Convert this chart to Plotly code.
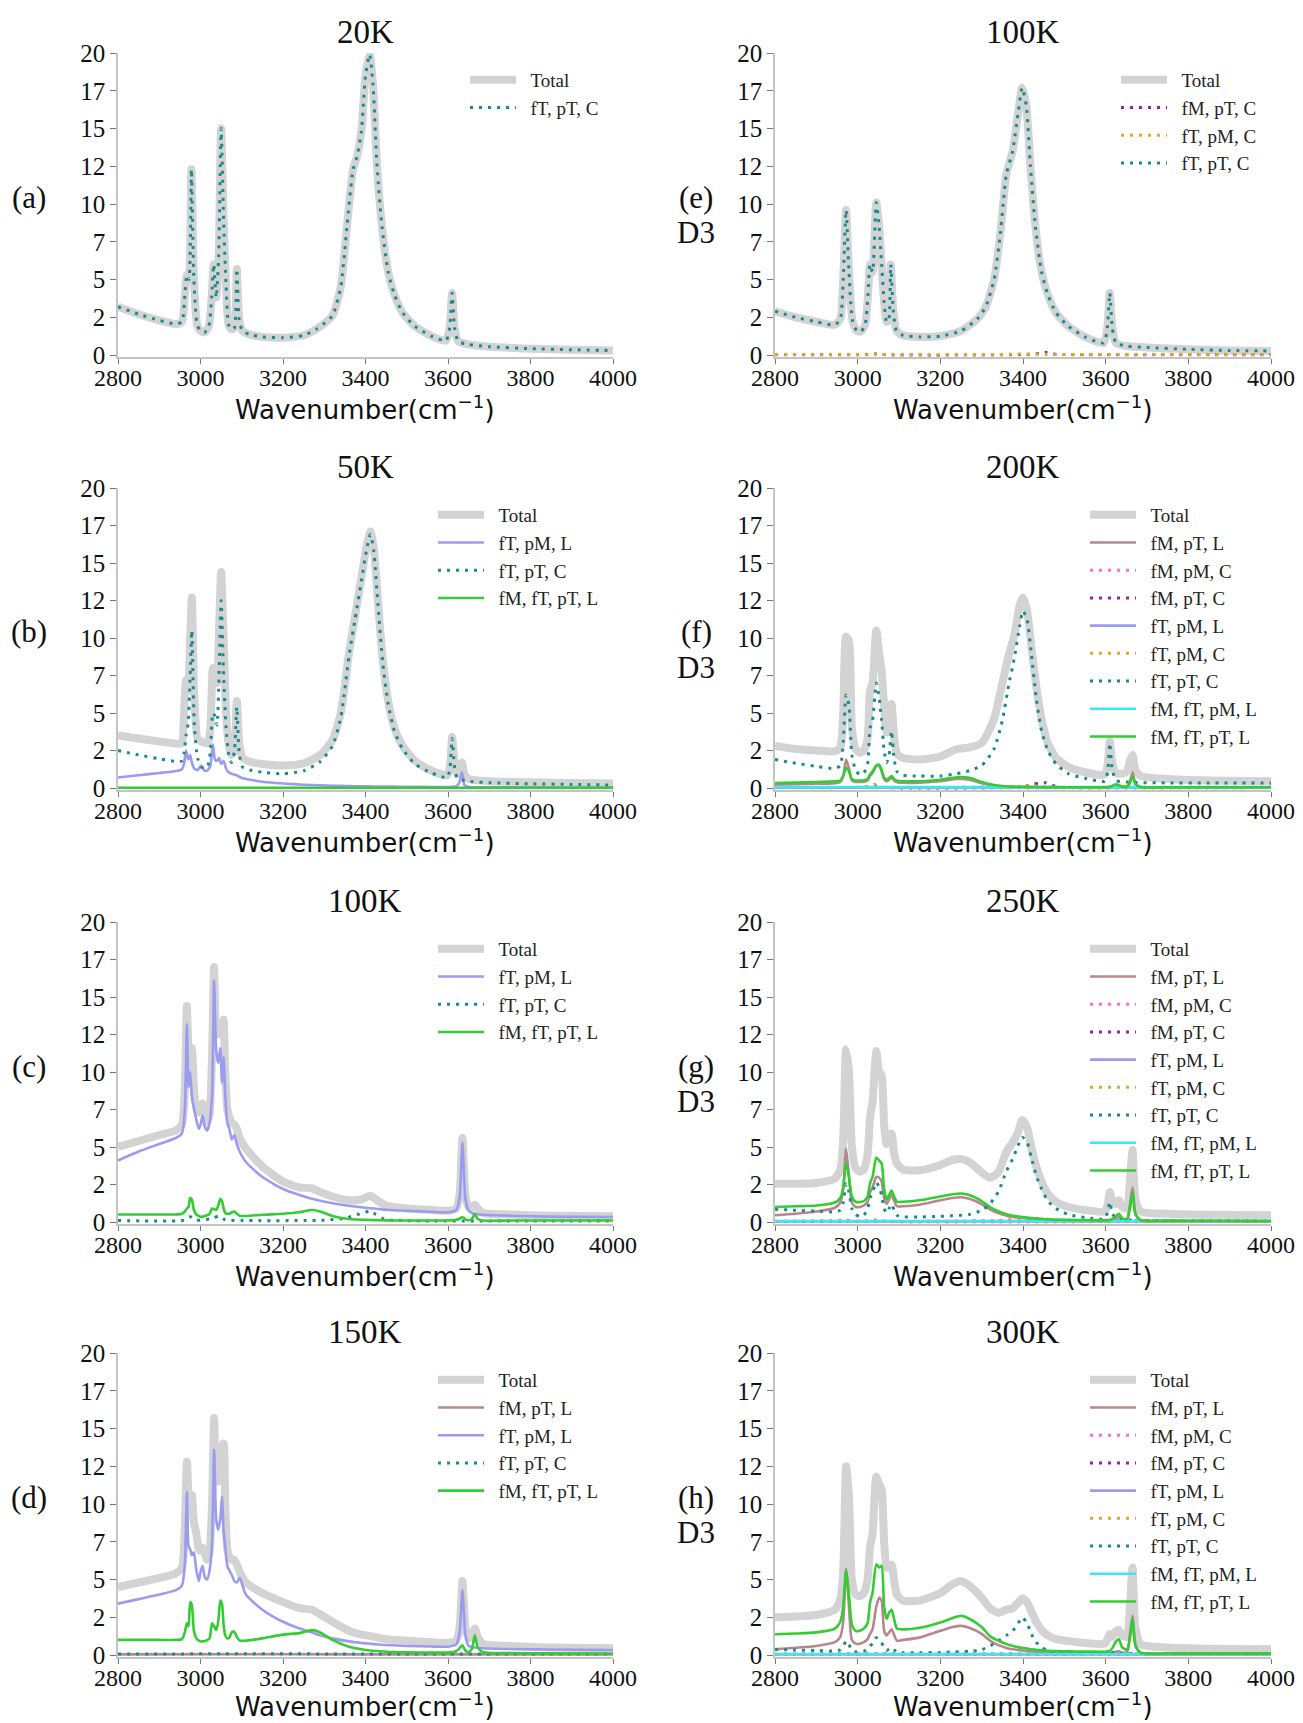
import plotly.graph_objects as go

# ======================= DATA =======================
# wavenumber grids (cm^-1)
wn_a = [2800, 2850, 2900, 2940, 2955, 2962, 2967, 2972, 2978, 2984,
        2992, 3000, 3010, 3020, 3027, 3032, 3038, 3044, 3050, 3056,
        3062, 3068, 3075, 3082, 3088, 3094, 3102, 3120, 3150, 3200,
        3250, 3280, 3300, 3320, 3340, 3355, 3370, 3380, 3390, 3400,
        3410, 3418, 3428, 3440, 3455, 3470, 3490, 3520, 3560, 3595,
        3604, 3610, 3616, 3625, 3650, 3700, 3800, 3900, 4000]
a_total = [3.2, 2.7, 2.3, 2.05, 2.2, 4.0, 5.3, 5.0, 12.3, 5.0,
           2.0, 1.6, 1.5, 1.9, 3.8, 6.0, 3.8, 6.5, 15.0, 9.0,
           4.6, 2.0, 1.7, 1.8, 5.7, 2.3, 1.6, 1.35, 1.2, 1.15,
           1.3, 1.7, 2.1, 2.6, 4.5, 8.5, 12.3, 13.2, 14.8, 18.5,
           19.9, 18.0, 12.5, 8.5, 5.5, 4.0, 2.8, 1.9, 1.25, 0.95,
           1.8, 4.1, 1.8, 0.9, 0.7, 0.55, 0.42, 0.35, 0.3]
a_fT_pT_C = [3.2, 2.7, 2.3, 2.05, 2.2, 4.0, 5.3, 5.0, 12.3, 5.0,
             2.0, 1.6, 1.5, 1.9, 3.8, 6.0, 3.8, 6.5, 15.0, 9.0,
             4.6, 2.0, 1.7, 1.8, 5.7, 2.3, 1.6, 1.35, 1.2, 1.15,
             1.3, 1.7, 2.1, 2.6, 4.5, 8.5, 12.3, 13.2, 14.8, 18.5,
             19.9, 18.0, 12.5, 8.5, 5.5, 4.0, 2.8, 1.9, 1.25, 0.95,
             1.8, 4.1, 1.8, 0.9, 0.7, 0.55, 0.42, 0.35, 0.3]

wn_b = [2800, 2850, 2900, 2945, 2955, 2960, 2965, 2970, 2975, 2979,
        2985, 2993, 3002, 3010, 3018, 3024, 3030, 3035, 3040, 3045,
        3050, 3056, 3062, 3068, 3075, 3082, 3088, 3094, 3102, 3120,
        3150, 3200, 3250, 3290, 3320, 3340, 3360, 3375, 3390, 3402,
        3412, 3420, 3430, 3442, 3455, 3470, 3490, 3520, 3560, 3598,
        3605, 3610, 3616, 3622, 3628, 3634, 3640, 3650, 3700, 3800,
        3900, 4000]
b_total = [3.5, 3.3, 3.1, 2.95, 3.0, 5.0, 7.2, 6.5, 10.0, 12.7,
           6.0, 3.3, 3.1, 3.0, 3.0, 4.0, 8.0, 7.5, 7.0, 10.5,
           14.4, 10.0, 5.0, 3.0, 2.2, 2.5, 5.8, 3.0, 2.0, 1.75,
           1.6, 1.5, 1.65, 2.2, 3.2, 5.0, 9.0, 11.5, 14.0, 16.0,
           17.1, 16.0, 12.5, 8.5, 5.8, 4.0, 2.8, 1.8, 1.15, 0.85,
           1.5, 3.4, 1.6, 0.9, 1.0, 1.7, 0.9, 0.6, 0.45, 0.38,
           0.33, 0.3]
b_fT_pM_L = [0.7, 0.85, 1.0, 1.15, 1.25, 1.6, 2.5, 1.9, 2.2, 1.7,
             1.3, 1.2, 1.5, 1.15, 1.2, 1.5, 2.9, 1.9, 1.8, 2.0,
             1.6, 1.8, 1.3, 1.05, 0.95, 0.9, 0.85, 0.75, 0.65, 0.55,
             0.42, 0.3, 0.22, 0.18, 0.15, 0.14, 0.13, 0.12, 0.12, 0.11,
             0.11, 0.1, 0.1, 0.1, 0.09, 0.09, 0.08, 0.08, 0.07, 0.07,
             0.07, 0.08, 0.1, 0.15, 0.4, 1.05, 0.2, 0.07, 0.05, 0.04,
             0.03, 0.03]
b_fT_pT_C = [2.5, 2.2, 1.95, 1.75, 1.8, 2.3, 3.5, 4.3, 7.5, 10.5,
             4.2, 2.0, 1.4, 1.3, 1.5, 2.4, 5.0, 4.8, 4.2, 7.5,
             12.5, 7.5, 4.0, 2.3, 1.7, 2.4, 5.4, 2.3, 1.4, 1.2,
             1.05, 0.95, 1.15, 1.75, 2.8, 4.7, 8.8, 11.3, 13.8, 15.8,
             16.9, 15.8, 12.3, 8.3, 5.6, 3.8, 2.6, 1.6, 1.0, 0.7,
             1.4, 3.3, 1.4, 0.7, 0.6, 0.55, 0.5, 0.45, 0.35, 0.28,
             0.24, 0.2]
wn_b_flat = [2800, 4000]
b_fM_fT_pT_L = [0.02, 0.02]

wn_cd = [2800, 2850, 2900, 2940, 2955, 2962, 2967, 2971, 2975, 2979,
         2984, 2990, 2996, 3000, 3005, 3010, 3016, 3022, 3028, 3033,
         3038, 3043, 3048, 3052, 3056, 3060, 3065, 3070, 3076, 3082,
         3088, 3095, 3110, 3150, 3200, 3240, 3270, 3290, 3320, 3360,
         3390, 3412, 3430, 3450, 3500, 3560, 3600, 3620, 3628, 3635,
         3642, 3650, 3658, 3665, 3672, 3685, 3750, 3850, 4000]
c_total = [5.0, 5.4, 5.8, 6.1, 6.5, 9.0, 14.4, 11.5, 11.0, 11.6,
           9.0, 7.6, 7.3, 7.5, 7.9, 7.2, 6.7, 7.2, 11.0, 17.0,
           12.8, 12.5, 13.0, 12.5, 13.5, 10.0, 7.5, 7.0, 6.6, 6.5,
           6.2, 5.6, 4.9, 3.7, 2.7, 2.3, 2.25, 2.0, 1.7, 1.45,
           1.5, 1.75, 1.4, 1.1, 0.9, 0.8, 0.75, 0.9, 1.8, 5.6,
           1.8, 1.0, 0.95, 1.15, 0.9, 0.6, 0.5, 0.42, 0.38]
c_fT_pM_L = [4.1, 4.7, 5.2, 5.6, 5.9, 7.5, 13.2, 9.0, 10.0, 8.4,
             7.6, 6.8, 6.2, 6.5, 7.1, 6.4, 6.1, 6.6, 8.5, 16.1,
             11.5, 10.6, 11.6, 9.3, 11.0, 8.5, 6.6, 6.2, 5.5, 5.8,
             5.2, 4.7, 4.0, 3.0, 2.2, 1.8, 1.55, 1.42, 1.25, 1.08,
             0.98, 0.92, 0.87, 0.82, 0.75, 0.68, 0.65, 0.8, 1.6, 5.3,
             1.6, 0.75, 0.6, 0.55, 0.52, 0.48, 0.42, 0.36, 0.33]
c_fM_fT_pT_L = [0.5, 0.5, 0.5, 0.5, 0.55, 0.7, 0.9, 1.0, 1.6, 1.5,
                0.8, 0.5, 0.4, 0.35, 0.35, 0.4, 0.45, 0.55, 0.9, 0.85,
                0.8, 1.1, 1.55, 1.4, 0.9, 0.6, 0.55, 0.55, 0.65, 0.7,
                0.55, 0.42, 0.4, 0.48, 0.55, 0.65, 0.8, 0.7, 0.4, 0.2,
                0.15, 0.13, 0.12, 0.11, 0.1, 0.1, 0.1, 0.15, 0.22, 0.33,
                0.18, 0.12, 0.2, 0.55, 0.2, 0.1, 0.1, 0.1, 0.1]
wn_c_ttc = [2800, 2960, 2975, 2990, 3030, 3045, 3060, 3100, 3300, 3350,
            3380, 3400, 3412, 3425, 3445, 3480, 4000]
c_fT_pT_C = [0.1, 0.12, 0.35, 0.12, 0.25, 0.4, 0.15, 0.1, 0.12, 0.25,
             0.5, 0.65, 0.75, 0.5, 0.2, 0.1, 0.07]

d_total = [4.5, 4.8, 5.1, 5.4, 5.8, 8.5, 12.8, 10.5, 9.8, 10.6,
           8.8, 8.0, 7.0, 6.9, 7.1, 6.8, 6.3, 6.8, 10.0, 15.7,
           11.8, 11.5, 12.5, 13.8, 14.0, 10.0, 7.0, 6.5, 6.3, 6.3,
           6.0, 5.5, 4.8, 4.1, 3.5, 3.1, 3.0, 2.7, 2.2, 1.6,
           1.35, 1.25, 1.15, 1.05, 0.95, 0.85, 0.8, 0.95, 1.8, 4.9,
           1.9, 1.1, 1.2, 1.75, 1.2, 0.75, 0.6, 0.5, 0.45]
d_fT_pM_L = [3.4, 3.7, 4.0, 4.3, 4.6, 6.0, 10.8, 7.2, 7.0, 6.6,
             6.8, 5.6, 4.9, 5.5, 5.9, 5.2, 5.0, 5.6, 7.5, 13.6,
             9.0, 8.3, 9.0, 10.5, 8.2, 7.2, 5.9, 5.6, 5.3, 4.9,
             4.8, 5.1, 4.0, 3.0, 2.2, 1.75, 1.5, 1.3, 1.1, 0.9,
             0.8, 0.74, 0.7, 0.66, 0.6, 0.56, 0.55, 0.7, 1.5, 4.3,
             1.4, 0.6, 0.52, 0.5, 0.48, 0.45, 0.4, 0.36, 0.33]
d_fM_fT_pT_L = [1.0, 1.0, 1.0, 1.0, 1.05, 1.5, 2.1, 1.9, 3.5, 3.3,
                1.6, 1.1, 0.95, 0.9, 0.9, 0.92, 0.98, 1.1, 2.1, 1.9,
                1.65, 2.2, 3.6, 3.4, 2.0, 1.3, 1.1, 1.15, 1.5, 1.55,
                1.2, 0.95, 0.95, 1.1, 1.35, 1.45, 1.65, 1.5, 1.0, 0.55,
                0.38, 0.3, 0.26, 0.22, 0.18, 0.16, 0.16, 0.25, 0.45, 0.65,
                0.3, 0.2, 0.4, 1.3, 0.5, 0.18, 0.13, 0.11, 0.1]
wn_d_small = [2800, 3050, 3400, 4000]
d_fM_pT_L = [0.04, 0.05, 0.04, 0.04]
d_fT_pT_C = [0.06, 0.08, 0.07, 0.06]

wn_e = [2800, 2850, 2900, 2945, 2958, 2965, 2972, 2979, 2988, 2998,
        3008, 3018, 3025, 3030, 3036, 3045, 3052, 3058, 3064, 3070,
        3075, 3080, 3086, 3094, 3110, 3150, 3200, 3250, 3290, 3310,
        3330, 3345, 3360, 3375, 3388, 3398, 3408, 3418, 3430, 3445,
        3460, 3480, 3510, 3550, 3595, 3604, 3610, 3616, 3625, 3650,
        3700, 3800, 3900, 4000]
e_total = [2.9, 2.5, 2.2, 2.0, 2.4, 5.0, 9.6, 5.5, 2.2, 1.6,
           1.55, 2.0, 4.0, 6.0, 5.5, 10.1, 8.5, 6.0, 3.5, 2.2,
           2.3, 6.0, 3.0, 1.6, 1.3, 1.2, 1.25, 1.6, 2.4, 3.2,
           5.0, 8.0, 12.0, 13.5, 16.0, 17.7, 16.5, 12.5, 8.5, 5.5,
           4.0, 2.8, 1.9, 1.2, 0.8, 1.8, 4.1, 1.8, 0.8, 0.6,
           0.5, 0.38, 0.3, 0.27]
e_fT_pT_C = [2.9, 2.5, 2.2, 2.0, 2.4, 5.0, 9.6, 5.5, 2.2, 1.6,
             1.55, 2.0, 4.0, 6.0, 5.5, 10.1, 8.5, 6.0, 3.5, 2.2,
             2.3, 6.0, 3.0, 1.6, 1.3, 1.2, 1.25, 1.6, 2.4, 3.2,
             5.0, 8.0, 12.0, 13.5, 16.0, 17.7, 16.5, 12.5, 8.5, 5.5,
             4.0, 2.8, 1.9, 1.2, 0.8, 1.8, 4.1, 1.8, 0.8, 0.6,
             0.5, 0.38, 0.3, 0.27]
wn_e_fMpTC = [2800, 3000, 3040, 3050, 3060, 3400, 3440, 3455, 3470, 3500, 4000]
e_fM_pT_C = [0.02, 0.02, 0.06, 0.1, 0.03, 0.03, 0.1, 0.18, 0.08, 0.03, 0.02]
wn_e_fTpMC = [2800, 3040, 3050, 3060, 3380, 3400, 3420, 4000]
e_fT_pM_C = [0.04, 0.04, 0.1, 0.04, 0.05, 0.08, 0.05, 0.04]

wn_f = [2800, 2850, 2900, 2945, 2958, 2965, 2972, 2979, 2986, 2995,
        3005, 3015, 3024, 3030, 3036, 3045, 3052, 3058, 3064, 3070,
        3076, 3082, 3088, 3095, 3110, 3150, 3200, 3240, 3270, 3300,
        3330, 3350, 3365, 3380, 3392, 3400, 3410, 3420, 3432, 3445,
        3460, 3480, 3510, 3550, 3598, 3605, 3610, 3616, 3625, 3640,
        3652, 3658, 3665, 3672, 3685, 3750, 3850, 4000]
f_total = [2.8, 2.6, 2.5, 2.45, 2.7, 5.0, 10.1, 9.8, 4.0, 2.6,
           2.35, 2.5, 3.3, 6.5, 7.0, 10.5, 9.0, 7.8, 5.5, 3.7,
           3.8, 5.6, 3.5, 2.3, 2.0, 1.9, 2.1, 2.6, 2.7, 3.0,
           4.6, 7.0, 8.8, 10.3, 12.2, 12.7, 11.8, 9.5, 6.8, 4.6,
           3.0, 2.0, 1.4, 1.05, 0.9, 1.6, 3.1, 1.7, 1.0, 0.95,
           1.1, 1.8, 2.2, 1.2, 0.8, 0.6, 0.5, 0.45]
f_fM_pT_L = [0.22, 0.25, 0.28, 0.32, 0.4, 0.8, 1.9, 1.3, 0.5, 0.4,
             0.4, 0.42, 0.5, 0.8, 1.0, 1.45, 1.5, 1.1, 0.6, 0.45,
             0.55, 0.7, 0.5, 0.38, 0.35, 0.36, 0.45, 0.6, 0.56, 0.32,
             0.16, 0.1, 0.08, 0.07, 0.07, 0.06, 0.06, 0.06, 0.05, 0.05,
             0.05, 0.05, 0.04, 0.04, 0.04, 0.05, 0.06, 0.1, 0.15, 0.08,
             0.1, 0.35, 1.05, 0.3, 0.05, 0.04, 0.04, 0.04]
f_fT_pT_C = [1.9, 1.65, 1.45, 1.3, 1.5, 3.0, 6.2, 5.5, 2.2, 1.2,
             0.9, 1.0, 1.6, 4.0, 4.5, 7.0, 6.0, 4.5, 2.5, 1.7,
             2.2, 3.8, 2.0, 1.1, 0.85, 0.8, 0.8, 0.95, 1.15, 1.5,
             2.6, 4.5, 6.8, 8.8, 10.8, 11.8, 11.2, 9.0, 6.0, 3.8,
             2.5, 1.6, 0.95, 0.65, 0.45, 1.2, 3.0, 1.2, 0.5, 0.42,
             0.4, 0.4, 0.38, 0.37, 0.36, 0.34, 0.33, 0.33]
f_fM_fT_pT_L = [0.33, 0.36, 0.4, 0.44, 0.5, 0.8, 1.35, 1.1, 0.6, 0.5,
                0.5, 0.52, 0.6, 0.9, 1.1, 1.5, 1.55, 1.2, 0.7, 0.55,
                0.65, 0.8, 0.6, 0.48, 0.45, 0.45, 0.55, 0.72, 0.68, 0.4,
                0.2, 0.13, 0.1, 0.09, 0.08, 0.08, 0.07, 0.07, 0.07, 0.06,
                0.06, 0.06, 0.05, 0.05, 0.05, 0.06, 0.08, 0.15, 0.25, 0.1,
                0.1, 0.3, 0.8, 0.25, 0.06, 0.05, 0.05, 0.05]
wn_f_fMpTC = [2800, 3000, 3040, 3050, 3060, 3380, 3410, 3425, 3440, 3455, 3465, 3480, 3500, 4000]
f_fM_pT_C = [0.03, 0.04, 0.12, 0.2, 0.06, 0.06, 0.15, 0.3, 0.28, 0.35, 0.25, 0.1, 0.04, 0.03]
wn_f_fMpMC = [2800, 3040, 3050, 3060, 4000]
f_fM_pM_C = [0.03, 0.05, 0.08, 0.04, 0.03]
wn_f_fTpMC = [2800, 3030, 3040, 3050, 3300, 3400, 3420, 3440, 4000]
f_fT_pM_C = [0.05, 0.1, 0.25, 0.08, 0.06, 0.1, 0.2, 0.08, 0.05]
wn_flat = [2800, 4000]
f_fT_pM_L = [0.02, 0.02]
f_fM_fT_pM_L = [0.06, 0.06]

wn_gh = [2800, 2850, 2900, 2945, 2958, 2965, 2972, 2979, 2986, 2995,
         3005, 3015, 3024, 3030, 3036, 3045, 3052, 3058, 3064, 3070,
         3076, 3082, 3088, 3095, 3110, 3150, 3200, 3230, 3250, 3270,
         3300, 3320, 3340, 3360, 3375, 3388, 3398, 3410, 3420, 3432,
         3445, 3460, 3480, 3510, 3550, 3598, 3605, 3610, 3616, 3625,
         3632, 3640, 3652, 3658, 3665, 3672, 3685, 3750, 3850, 4000]
g_total = [2.55, 2.55, 2.6, 2.9, 3.5, 5.5, 11.5, 10.0, 5.0, 3.6,
           3.35, 3.5, 4.5, 7.0, 8.0, 11.4, 10.0, 9.8, 6.5, 5.2,
           5.5, 5.9, 4.6, 3.9, 3.5, 3.45, 3.8, 4.15, 4.2, 4.0,
           3.3, 2.95, 3.3, 4.7, 5.3, 6.0, 6.8, 6.3, 5.0, 3.7,
           2.7, 1.9, 1.35, 1.0, 0.8, 0.7, 1.2, 2.0, 1.4, 1.2,
           1.45, 1.0, 0.9, 2.5, 4.8, 1.5, 0.7, 0.55, 0.48, 0.45]
g_fM_pT_L = [0.45, 0.55, 0.7, 0.95, 1.3, 2.2, 4.9, 3.0, 1.3, 1.0,
             1.0, 1.1, 1.35, 2.0, 2.3, 3.0, 2.95, 2.7, 1.6, 1.2,
             1.5, 1.8, 1.45, 1.05, 1.05, 1.15, 1.45, 1.6, 1.65, 1.55,
             1.2, 0.85, 0.6, 0.42, 0.34, 0.3, 0.27, 0.24, 0.21, 0.18,
             0.16, 0.14, 0.12, 0.1, 0.08, 0.07, 0.08, 0.1, 0.15, 0.25,
             0.33, 0.18, 0.2, 1.0, 2.3, 0.6, 0.1, 0.06, 0.05, 0.05]
g_fT_pT_C = [0.85, 0.78, 0.72, 0.68, 0.8, 1.3, 2.55, 2.0, 0.9, 0.5,
             0.35, 0.45, 0.9, 1.6, 2.0, 2.65, 2.3, 1.8, 0.9, 0.6,
             0.9, 1.2, 0.8, 0.45, 0.35, 0.33, 0.38, 0.42, 0.45, 0.5,
             0.78, 1.2, 2.0, 3.4, 4.2, 5.1, 5.65, 5.3, 4.3, 3.1,
             2.2, 1.4, 0.9, 0.5, 0.3, 0.22, 0.7, 1.33, 0.6, 0.22,
             0.2, 0.18, 0.15, 0.14, 0.13, 0.12, 0.1, 0.09, 0.08, 0.07]
g_fM_fT_pT_L = [1.0, 1.05, 1.1, 1.3, 1.6, 2.3, 4.0, 3.0, 1.7, 1.35,
                1.33, 1.4, 1.7, 2.6, 3.0, 4.3, 4.1, 3.9, 2.2, 1.5,
                1.8, 2.1, 1.7, 1.35, 1.35, 1.45, 1.7, 1.85, 1.9, 1.8,
                1.4, 1.0, 0.72, 0.52, 0.42, 0.37, 0.33, 0.3, 0.27, 0.24,
                0.21, 0.18, 0.16, 0.14, 0.12, 0.11, 0.12, 0.14, 0.2, 0.4,
                0.55, 0.25, 0.2, 0.8, 2.0, 0.5, 0.12, 0.09, 0.08, 0.07]
wn_g_fMpMC = [2800, 3040, 3050, 3060, 4000]
g_fM_pM_C = [0.04, 0.06, 0.1, 0.05, 0.04]
wn_g_fMpTC = [2800, 2968, 2975, 2982, 3040, 3050, 3060, 3400, 4000]
g_fM_pT_C = [0.04, 0.06, 0.12, 0.05, 0.06, 0.12, 0.06, 0.08, 0.04]
wn_g_fTpMC = [2800, 2975, 2985, 3040, 3050, 3060, 3330, 3360, 3390, 3420, 4000]
g_fT_pM_C = [0.05, 0.1, 0.05, 0.12, 0.2, 0.06, 0.08, 0.15, 0.12, 0.06, 0.05]
g_fT_pM_L = [0.03, 0.03]
g_fM_fT_pM_L = [0.07, 0.07]

h_total = [2.5, 2.55, 2.65, 3.0, 3.7, 5.5, 12.5, 10.5, 5.0, 4.0,
           3.9, 4.1, 5.0, 7.2, 8.0, 11.8, 11.3, 11.0, 7.5, 5.8,
           5.8, 6.0, 5.0, 4.0, 3.6, 3.6, 4.1, 4.7, 4.9, 4.6,
           3.8, 3.1, 2.8, 3.0, 3.1, 3.45, 3.75, 3.5, 2.9, 2.2,
           1.65, 1.3, 1.05, 0.92, 0.8, 0.75, 1.1, 1.4, 1.2, 1.6,
           1.65, 1.3, 1.2, 3.0, 5.8, 1.8, 0.7, 0.5, 0.42, 0.38]
h_fM_pT_L = [0.38, 0.48, 0.6, 0.85, 1.2, 2.2, 5.7, 3.2, 1.0, 0.75,
             0.75, 0.85, 1.05, 1.4, 1.7, 3.2, 3.8, 3.6, 1.6, 1.3,
             1.5, 1.7, 1.35, 0.95, 1.0, 1.15, 1.6, 1.85, 1.93, 1.8,
             1.4, 0.95, 0.65, 0.47, 0.38, 0.33, 0.3, 0.27, 0.24, 0.21,
             0.18, 0.16, 0.14, 0.12, 0.1, 0.09, 0.1, 0.11, 0.15, 0.22,
             0.25, 0.15, 0.2, 1.2, 2.6, 0.7, 0.12, 0.09, 0.09, 0.09]
h_fT_pT_C = [0.38, 0.33, 0.3, 0.27, 0.35, 0.55, 0.93, 0.7, 0.3, 0.22,
             0.2, 0.25, 0.4, 0.6, 0.75, 1.15, 1.0, 0.82, 0.45, 0.3,
             0.4, 0.5, 0.35, 0.2, 0.15, 0.15, 0.17, 0.2, 0.22, 0.25,
             0.35, 0.6, 0.93, 1.3, 1.6, 2.1, 2.5, 2.1, 1.4, 0.85,
             0.5, 0.3, 0.2, 0.15, 0.12, 0.12, 0.25, 0.38, 0.2, 0.12,
             0.11, 0.1, 0.1, 0.1, 0.1, 0.1, 0.09, 0.09, 0.09, 0.09]
h_fM_fT_pT_L = [1.37, 1.42, 1.5, 1.75, 2.2, 3.2, 5.6, 4.0, 2.0, 1.6,
                1.6, 1.75, 2.1, 3.5, 4.1, 6.0, 5.8, 5.9, 3.2, 2.4,
                2.8, 3.0, 2.4, 1.75, 1.7, 1.8, 2.15, 2.45, 2.6, 2.4,
                1.85, 1.25, 0.95, 0.72, 0.6, 0.52, 0.47, 0.42, 0.38, 0.34,
                0.31, 0.28, 0.26, 0.24, 0.23, 0.22, 0.24, 0.28, 0.45, 0.9,
                1.05, 0.5, 0.35, 1.0, 2.4, 0.6, 0.15, 0.1, 0.09, 0.09]
wn_h_small = [2800, 3050, 3400, 4000]
h_fM_pM_C = [0.04, 0.07, 0.05, 0.04]
h_fM_pT_C = [0.04, 0.08, 0.06, 0.04]
h_fT_pM_L = [0.03, 0.03, 0.03, 0.03]
h_fT_pM_C = [0.05, 0.1, 0.08, 0.05]
h_fM_fT_pM_L = [0.07, 0.07, 0.07, 0.07]

x_ticks = [2800, 3000, 3200, 3400, 3600, 3800, 4000]
y_ticks = [0, 2.5, 5, 7.5, 10, 12.5, 15, 17.5, 20]
y_tick_text = ["0", "2", "5", "7", "10", "12", "15", "17", "20"]

panel_titles = ["20K", "100K", "50K", "200K", "100K", "250K", "150K", "300K"]
panel_labels = ["(a)", "(e)", "(b)", "(f)", "(c)", "(g)", "(d)", "(h)"]

# ======================= STYLE / LAYOUT =======================
W, H = 1303, 1723
SERIF = "Liberation Serif, Times New Roman, serif"
SANS = "DejaVu Sans, sans-serif"
DOT = "3px,6px"
STYLE = {
    "Total": ("#d3d3d3", 8, "solid"),
    "fM, pT, L": ("#b8878e", 2.6, "solid"),
    "fM, pM, C": ("#ff70c8", 3, DOT),
    "fM, pT, C": ("#a0209c", 3, DOT),
    "fT, pM, L": ("#9b9bf2", 2.6, "solid"),
    "fT, pM, C": ("#d6ad2a", 3, DOT),
    "fT, pT, C": ("#1a8a8f", 3, DOT),
    "fM, fT, pM, L": ("#3ae8f5", 2.6, "solid"),
    "fM, fT, pT, L": ("#33cc33", 2.6, "solid"),
}

panel_series = [
    [("Total", wn_a, a_total), ("fT, pT, C", wn_a, a_fT_pT_C)],
    [("Total", wn_e, e_total), ("fM, pT, C", wn_e_fMpTC, e_fM_pT_C),
     ("fT, pM, C", wn_e_fTpMC, e_fT_pM_C), ("fT, pT, C", wn_e, e_fT_pT_C)],
    [("Total", wn_b, b_total), ("fT, pM, L", wn_b, b_fT_pM_L),
     ("fT, pT, C", wn_b, b_fT_pT_C), ("fM, fT, pT, L", wn_b_flat, b_fM_fT_pT_L)],
    [("Total", wn_f, f_total), ("fM, pT, L", wn_f, f_fM_pT_L),
     ("fM, pM, C", wn_f_fMpMC, f_fM_pM_C), ("fM, pT, C", wn_f_fMpTC, f_fM_pT_C),
     ("fT, pM, L", wn_flat, f_fT_pM_L), ("fT, pM, C", wn_f_fTpMC, f_fT_pM_C),
     ("fT, pT, C", wn_f, f_fT_pT_C), ("fM, fT, pM, L", wn_flat, f_fM_fT_pM_L),
     ("fM, fT, pT, L", wn_f, f_fM_fT_pT_L)],
    [("Total", wn_cd, c_total), ("fT, pM, L", wn_cd, c_fT_pM_L),
     ("fT, pT, C", wn_c_ttc, c_fT_pT_C), ("fM, fT, pT, L", wn_cd, c_fM_fT_pT_L)],
    [("Total", wn_gh, g_total), ("fM, pT, L", wn_gh, g_fM_pT_L),
     ("fM, pM, C", wn_g_fMpMC, g_fM_pM_C), ("fM, pT, C", wn_g_fMpTC, g_fM_pT_C),
     ("fT, pM, L", wn_flat, g_fT_pM_L), ("fT, pM, C", wn_g_fTpMC, g_fT_pM_C),
     ("fT, pT, C", wn_gh, g_fT_pT_C), ("fM, fT, pM, L", wn_flat, g_fM_fT_pM_L),
     ("fM, fT, pT, L", wn_gh, g_fM_fT_pT_L)],
    [("Total", wn_cd, d_total), ("fM, pT, L", wn_d_small, d_fM_pT_L),
     ("fT, pM, L", wn_cd, d_fT_pM_L), ("fT, pT, C", wn_d_small, d_fT_pT_C),
     ("fM, fT, pT, L", wn_cd, d_fM_fT_pT_L)],
    [("Total", wn_gh, h_total), ("fM, pT, L", wn_gh, h_fM_pT_L),
     ("fM, pM, C", wn_h_small, h_fM_pM_C), ("fM, pT, C", wn_h_small, h_fM_pT_C),
     ("fT, pM, L", wn_h_small, h_fT_pM_L), ("fT, pM, C", wn_h_small, h_fT_pM_C),
     ("fT, pT, C", wn_gh, h_fT_pT_C), ("fM, fT, pM, L", wn_h_small, h_fM_fT_pM_L),
     ("fM, fT, pT, L", wn_gh, h_fM_fT_pT_L)],
]

for ser in panel_series:
    for nm, xs, ys in ser:
        assert len(xs) == len(ys), (nm, len(xs), len(ys))

# pixel geometry of the plot areas
COL_X = [(118, 613), (775, 1271)]
LABEL_X = [29, 696]
ROW_Y = [(53, 355), (488, 788), (922, 1222), (1353, 1655)]  # (y=20 px, y=0 px)
Y_MIN = -0.12
LEGEND_PAD = "\u2002"  # small gap between legend sample and its text


def px(x):
    return x / W


def py(y):
    return 1 - y / H


fig = go.Figure()
annotations = []
layout = dict(width=W, height=H,
              margin=dict(l=0, r=0, t=0, b=0, pad=0, autoexpand=False),
              plot_bgcolor="white", paper_bgcolor="white", showlegend=True)

for i in range(8):
    row, col = i // 2, i % 2
    x0, x1 = COL_X[col]
    top, zero = ROW_Y[row]
    unit = (zero - top) / 20.0
    bottom = zero - Y_MIN * unit
    sfx = "" if i == 0 else str(i + 1)
    xa, ya, lg = "xaxis" + sfx, "yaxis" + sfx, "legend" + sfx
    layout[xa] = dict(domain=[px(x0), px(x1)], anchor="y" + sfx, range=[2800, 4000],
                      tickvals=x_ticks, showline=True, linecolor="#c4c4c4", linewidth=1.5,
                      ticks="outside", ticklen=5, tickwidth=1, tickcolor="#777",
                      ticklabelstandoff=-6,
                      showgrid=False, zeroline=False,
                      tickfont=dict(family=SERIF, size=24, color="#111"))
    layout[ya] = dict(domain=[py(bottom), py(top)], anchor="x" + sfx, range=[Y_MIN, 20],
                      tickvals=y_ticks, ticktext=y_tick_text, showline=True,
                      linecolor="#c4c4c4", linewidth=1.5, ticks="outside", ticklen=6,
                      tickwidth=1, tickcolor="#777", showgrid=False, zeroline=False,
                      tickfont=dict(family=SERIF, size=25, color="#111"))
    layout[lg] = dict(x=px(x1 - 9), xanchor="right", y=py(top + 8), yanchor="top",
                      font=dict(family=SERIF, size=19, color="#222"),
                      bgcolor="rgba(0,0,0,0)", traceorder="grouped", tracegroupgap=0,
                      itemwidth=46)
    for k, (nm, xs, ys) in enumerate(panel_series[i]):
        c, w, d = STYLE[nm]
        fig.add_trace(go.Scatter(x=xs, y=ys, mode="lines", name=LEGEND_PAD + nm,
                                 line=dict(color=c, width=w, dash=d, shape="spline", smoothing=0.6),
                                 xaxis="x" + sfx, yaxis="y" + sfx, legend=lg,
                                 legendgroup=f"p{i}s{k}"))
    cx = (x0 + x1) / 2
    annotations.append(dict(text=panel_titles[i], x=px(cx), y=py(top - 21), xref="paper",
                            yref="paper", showarrow=False, xanchor="center", yanchor="middle",
                            font=dict(family=SERIF, size=33, color="#111")))
    annotations.append(dict(text="Wavenumber(cm<sup>\u22121</sup>)", x=px(cx),
                            y=py(min(zero + 53, H - 18)),
                            xref="paper", yref="paper", showarrow=False, xanchor="center",
                            yanchor="middle", font=dict(family=SANS, size=26, color="#111")))
    lx = LABEL_X[col]
    annotations.append(dict(text=panel_labels[i], x=px(lx), y=py(top + 144), xref="paper",
                            yref="paper", showarrow=False, xanchor="center", yanchor="middle",
                            font=dict(family=SERIF, size=31, color="#111")))
    if col == 1:
        annotations.append(dict(text="D3", x=px(lx), y=py(top + 179), xref="paper",
                                yref="paper", showarrow=False, xanchor="center",
                                yanchor="middle", font=dict(family=SERIF, size=31, color="#111")))

layout["annotations"] = annotations
fig.update_layout(**layout)
fig.write_html("out.html")
